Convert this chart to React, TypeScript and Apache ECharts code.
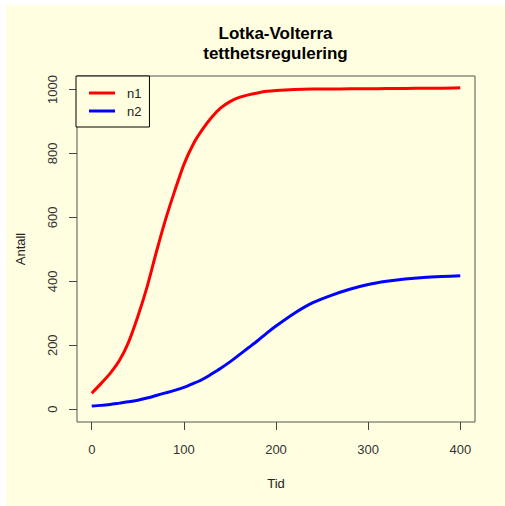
import React, { useEffect, useRef } from "react";
import * as echarts from "echarts";

const times = [0, 10, 20, 30, 40, 50, 60, 70, 80, 90, 100, 110, 120, 130, 140, 150, 160, 170, 180, 190, 200, 220, 240, 260, 280, 300, 320, 340, 360, 380, 400];
const n1 = [50, 80, 112, 152, 210, 290, 382, 490, 592, 682, 765, 828, 874, 912, 942, 962, 975, 983, 989, 994, 997, 1000, 1001, 1001, 1002, 1002, 1003, 1003, 1004, 1004, 1005];
const n2 = [10, 12, 15, 19, 23, 28, 35, 43, 51, 59, 68, 80, 93, 110, 128, 148, 170, 192, 214, 238, 260, 300, 333, 356, 375, 390, 400, 407, 412, 415, 417];
const xTicks = [0, 100, 200, 300, 400];
const yTicks = [0, 200, 400, 600, 800, 1000];

const OX = 6;
const OY = 5;
const BG = "#FFFEE0";
const FONT = "Liberation Sans, Arial, sans-serif";

export default function App() {
  const ref = useRef<HTMLDivElement>(null);
  useEffect(() => {
    if (!ref.current) return;
    const chart = echarts.init(ref.current, undefined, { renderer: "svg" });
    const toPairs = (ys: number[]) => times.map((t, i) => [t, ys[i]]);
    chart.setOption({
      animation: false,
      backgroundColor: BG,
      textStyle: { fontFamily: FONT },
      title: {
        text: "Lotka-Volterra\ntetthetsregulering",
        left: 275.5 - OX,
        top: 23 - OY,
        padding: 0,
        textAlign: "center",
        textStyle: { fontSize: 17, fontWeight: "bold", color: "#000", lineHeight: 20, fontFamily: FONT },
      },
      legend: {
        orient: "vertical",
        left: 76 - OX,
        top: 76 - OY,
        padding: [10, 8, 9, 13],
        borderColor: "#000",
        borderWidth: 1,
        backgroundColor: BG,
        itemWidth: 26,
        itemHeight: 3,
        itemGap: 4,
        icon: "rect",
        textStyle: { fontSize: 13, color: "#222", lineHeight: 14, padding: [0, 0, 0, 7], fontFamily: FONT },
        data: ["n1", "n2"],
      },
      grid: {
        left: 76 - OX,
        top: 76 - OY,
        width: 399,
        height: 346,
        show: true,
        borderColor: "#555",
        borderWidth: 1,
        backgroundColor: "transparent",
      },
      xAxis: {
        type: "value",
        min: -16,
        max: 416,
        name: "Tid",
        nameLocation: "middle",
        nameGap: 55,
        nameTextStyle: { fontSize: 13, color: "#222", fontFamily: FONT },
        splitLine: { show: false },
        axisLine: { show: false, onZero: false },
        axisTick: { show: true, customValues: xTicks, length: 8, lineStyle: { color: "#444" } },
        axisLabel: { customValues: xTicks, fontSize: 13, color: "#333", margin: 21, fontFamily: FONT, formatter: (v: number) => String(v) },
      },
      yAxis: {
        type: "value",
        min: -40,
        max: 1042,
        name: "Antall",
        nameLocation: "middle",
        nameGap: 50,
        nameTextStyle: { fontSize: 13, color: "#222", fontFamily: FONT },
        splitLine: { show: false },
        axisLine: { show: false, onZero: false },
        axisTick: { show: true, customValues: yTicks, length: 8, lineStyle: { color: "#444" } },
        axisLabel: { customValues: yTicks, fontSize: 13, color: "#333", margin: 18, rotate: 90, fontFamily: FONT, formatter: (v: number) => String(v) },
      },
      series: [
        { name: "n1", type: "line", data: toPairs(n1), symbol: "none", smooth: 0.25, lineStyle: { color: "#FF0000", width: 3 }, itemStyle: { color: "#FF0000" } },
        { name: "n2", type: "line", data: toPairs(n2), symbol: "none", smooth: 0.25, lineStyle: { color: "#0000FF", width: 3 }, itemStyle: { color: "#0000FF" } },
      ],
    });
    return () => chart.dispose();
  }, []);
  return (
    <div
      ref={ref}
      style={{ position: "absolute", left: OX, top: OY, width: 505 - OX, height: 506 - OY }}
    />
  );
}
